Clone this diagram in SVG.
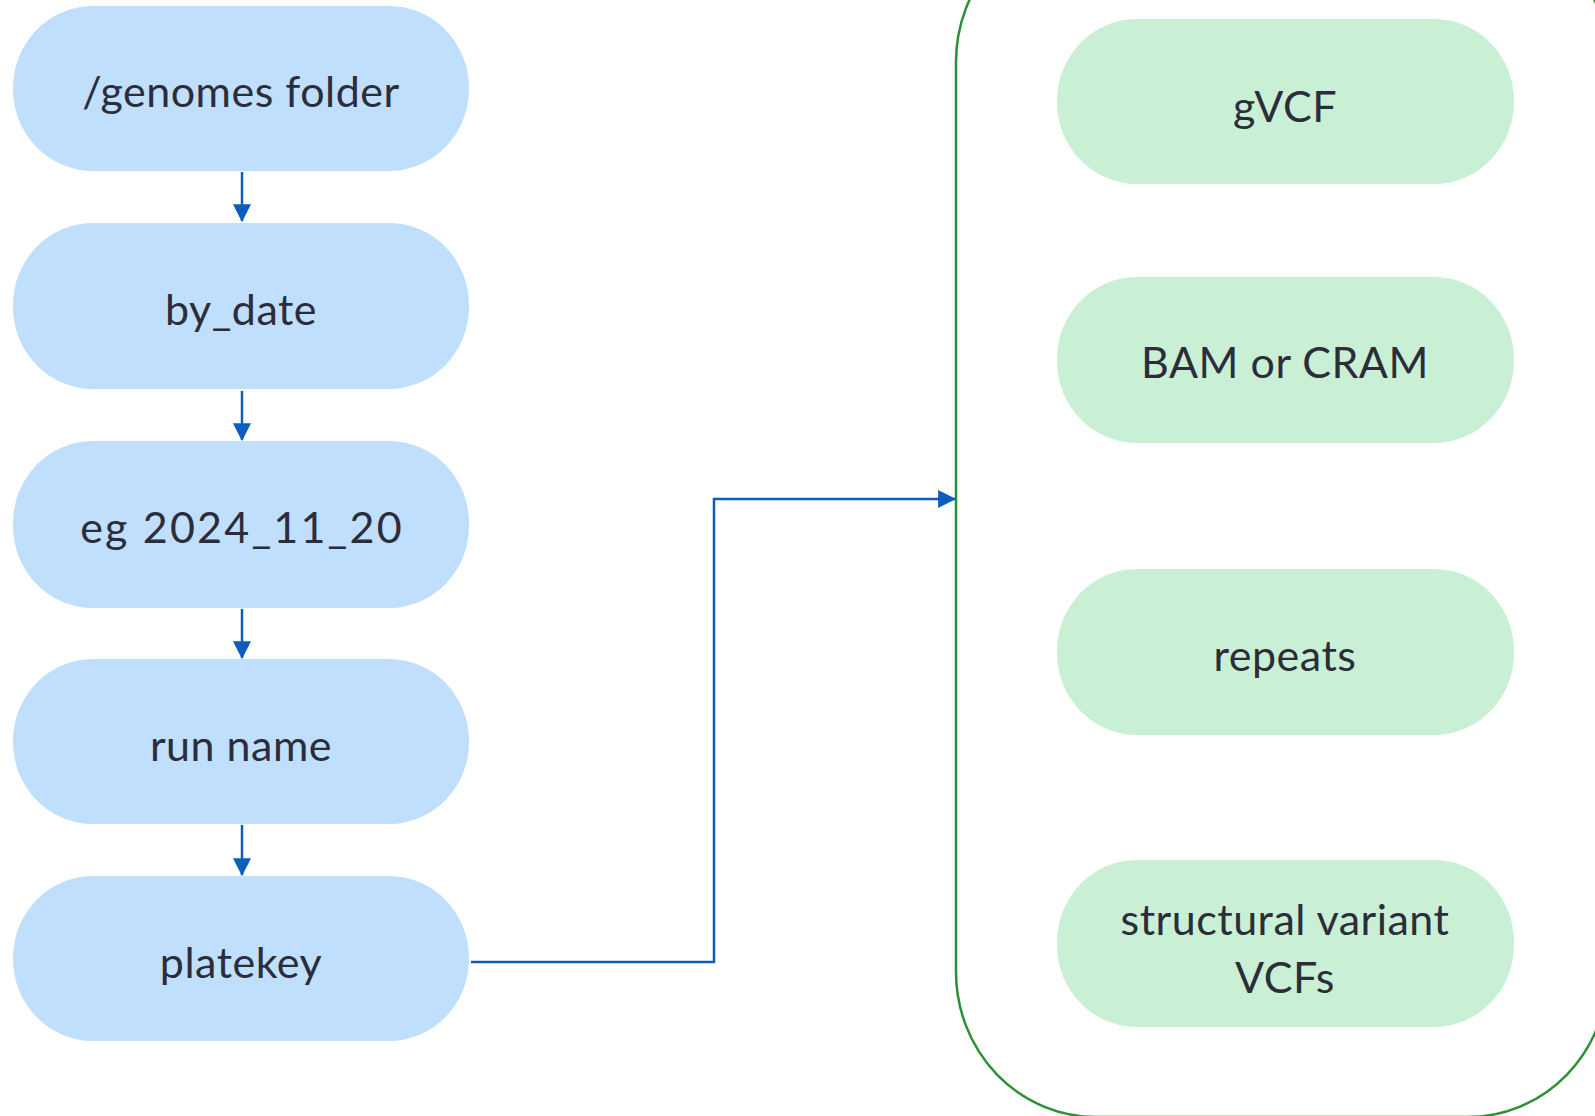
<svg xmlns="http://www.w3.org/2000/svg" width="1595" height="1116" viewBox="0 0 1595 1116">
<style>
.blue{fill:#bfdffd}
.green{fill:#c9f0d4}
.lbl{font-family:Lato,"Noto Sans",sans-serif;font-size:43px;fill:#2b2d3a;text-anchor:middle;letter-spacing:0.5px}
.con{fill:none;stroke:#0b5ebd;stroke-width:2.5}
</style>
<defs>
<marker id="ah" markerUnits="userSpaceOnUse" markerWidth="18" markerHeight="18" viewBox="0 0 16 16" refX="15" refY="8" orient="auto">
<path d="M0,0 L16,8 L0,16 z" fill="#0b5ebd"/>
</marker>
</defs>
<g id="container">
<rect x="956" y="-83" width="652" height="1200" rx="140" ry="145" fill="none" stroke="#2a9134" stroke-width="2.5"/>
</g>
<g id="genomes">
<rect class="blue" x="13" y="6" width="456" height="165" rx="80" ry="82"/>
<text class="lbl" x="241" y="107">/genomes folder</text>
</g>
<g id="by_date">
<rect class="blue" x="13" y="223" width="456" height="166" rx="80" ry="82"/>
<text class="lbl" x="241" y="325">by_date</text>
</g>
<g id="date">
<rect class="blue" x="13" y="441" width="456" height="167" rx="80" ry="82"/>
<text class="lbl" x="242" y="543" style="letter-spacing:2.2px">eg 2024_11_20</text>
</g>
<g id="run_name">
<rect class="blue" x="13" y="659" width="456" height="165" rx="80" ry="82"/>
<text class="lbl" x="241" y="761">run name</text>
</g>
<g id="platekey">
<rect class="blue" x="13" y="876" width="456" height="165" rx="80" ry="82"/>
<text class="lbl" x="241" y="978">platekey</text>
</g>
<g id="gvcf">
<rect class="green" x="1057" y="19" width="457" height="165" rx="80" ry="82"/>
<text class="lbl" x="1285" y="122">gVCF</text>
</g>
<g id="bam">
<rect class="green" x="1057" y="277" width="457" height="166" rx="80" ry="82"/>
<text class="lbl" x="1285" y="378">BAM or CRAM</text>
</g>
<g id="repeats">
<rect class="green" x="1057" y="569" width="457" height="166" rx="80" ry="82"/>
<text class="lbl" x="1285" y="671">repeats</text>
</g>
<g id="sv">
<rect class="green" x="1057" y="860" width="457" height="167" rx="80" ry="82"/>
<text class="lbl" x="1285" y="935">structural variant</text>
<text class="lbl" x="1285" y="993">VCFs</text>
</g>
<g id="connectors">
<path class="con" d="M242,172 V221" marker-end="url(#ah)"/>
<path class="con" d="M242,391 V440" marker-end="url(#ah)"/>
<path class="con" d="M242,609 V658" marker-end="url(#ah)"/>
<path class="con" d="M242,825 V875" marker-end="url(#ah)"/>
<path class="con" d="M471,962 H714 V499 H955" marker-end="url(#ah)"/>
</g>
</svg>
